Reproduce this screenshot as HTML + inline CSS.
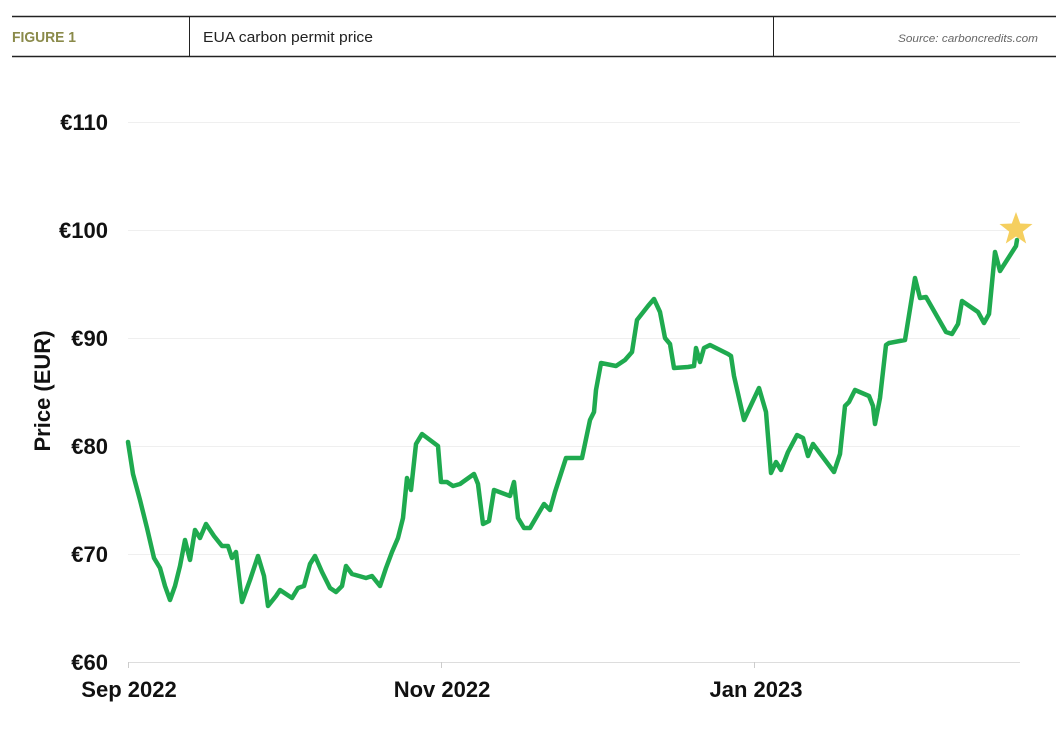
<!DOCTYPE html>
<html><head><meta charset="utf-8"><style>
body{margin:0;background:#fff;width:1056px;height:737px;overflow:hidden;font-family:"Liberation Sans",sans-serif}
</style></head><body>
<svg width="1056" height="737" xmlns="http://www.w3.org/2000/svg" style="position:absolute;left:0;top:0">
<line x1="12" y1="16.5" x2="1056" y2="16.5" stroke="#222" stroke-width="1.5"/>
<line x1="12" y1="56.5" x2="1056" y2="56.5" stroke="#222" stroke-width="1.5"/>
<line x1="189.5" y1="16" x2="189.5" y2="57" stroke="#222" stroke-width="1"/>
<line x1="773.5" y1="16" x2="773.5" y2="57" stroke="#222" stroke-width="1"/>
<text x="12" y="42" font-size="15" font-weight="bold" fill="#8a8a4a" textLength="64" lengthAdjust="spacingAndGlyphs">FIGURE 1</text>
<text x="203" y="42" font-size="15" fill="#222" textLength="170" lengthAdjust="spacingAndGlyphs">EUA carbon permit price</text>
<text x="1038" y="42" font-size="11" font-style="italic" fill="#666" text-anchor="end" textLength="140" lengthAdjust="spacingAndGlyphs">Source: carboncredits.com</text>
<g stroke="#efefef" stroke-width="1">
<line x1="128" y1="122.5" x2="1020" y2="122.5"/>
<line x1="128" y1="230.5" x2="1020" y2="230.5"/>
<line x1="128" y1="338.5" x2="1020" y2="338.5"/>
<line x1="128" y1="446.5" x2="1020" y2="446.5"/>
<line x1="128" y1="554.5" x2="1020" y2="554.5"/>
</g>
<line x1="128" y1="662.5" x2="1020" y2="662.5" stroke="#ddd" stroke-width="1"/>
<g stroke="#ccc"><line x1="128.5" y1="662" x2="128.5" y2="668"/><line x1="441.5" y1="662" x2="441.5" y2="668"/><line x1="754.5" y1="662" x2="754.5" y2="668"/></g>
<g font-size="22" font-weight="bold" fill="#111" text-anchor="end">
<text x="108" y="130">€110</text><text x="108" y="238">€100</text><text x="108" y="346">€90</text>
<text x="108" y="454">€80</text><text x="108" y="562">€70</text><text x="108" y="670">€60</text>
</g>
<g font-size="22" font-weight="bold" fill="#111" text-anchor="middle">
<text x="129" y="697">Sep 2022</text><text x="442" y="697">Nov 2022</text><text x="756" y="697">Jan 2023</text>
</g>
<text transform="translate(50,391) rotate(-90)" font-size="22" font-weight="bold" fill="#111" text-anchor="middle">Price (EUR)</text>
<polyline fill="none" stroke="#1faa4f" stroke-width="4.5" stroke-linejoin="round" stroke-linecap="round" points="128,442 133,474 140,500 147,528 154,558 160,568 165,586 170,600 175,586 180,566 185,540 190,560 195,530 200,538 206,524 214,536 222,546 228,546 232,558 236,552 242,602 250,580 258,556 264,576 268,606 276,596 280,590 292,598 298,588 304,586 310,564 315,556 322,572 330,588 336,592 342,586 346,566 352,574 366,578 372,576 380,586 386,568 392,552 398,538 403,518 407,478 411,490 416,444 422,434 438,446 441,482 447,482 453,486 460,484 474,474 478,484 483,524 489,521 494,490 510,496 514,482 518,518 524,528 530,528 544,504 550,510 555,492 566,458 582,458 590,420 594,412 596,390 601,363 616,366 625,360 632,352 637,320 648,306 654,299 660,312 665,338 670,344 674,368 688,367 694,366 696,348 700,362 704,348 710,345 728,354 731,356 734,376 744,420 759,388 766,412 771,473 776,462 781,470 788,452 797,435 803,438 808,456 813,444 834,472 840,454 845,406 849,402 855,390 869,396 873,406 875,424 880,398 886,345 889,343 905,340 915,278 920,298 926,297 946,332 952,334 958,324 962,301 978,312 984,323 989,314 995,252 1000,271 1016,246 1017,240"/>
<polygon fill="#f5cf5f" points="1016,212 1020.2,223.5 1032.5,224 1022.8,231.6 1026.2,243.5 1016,236.5 1005.8,243.5 1009.2,231.6 999.5,224 1011.8,223.5"/>
</svg>
</body></html>
